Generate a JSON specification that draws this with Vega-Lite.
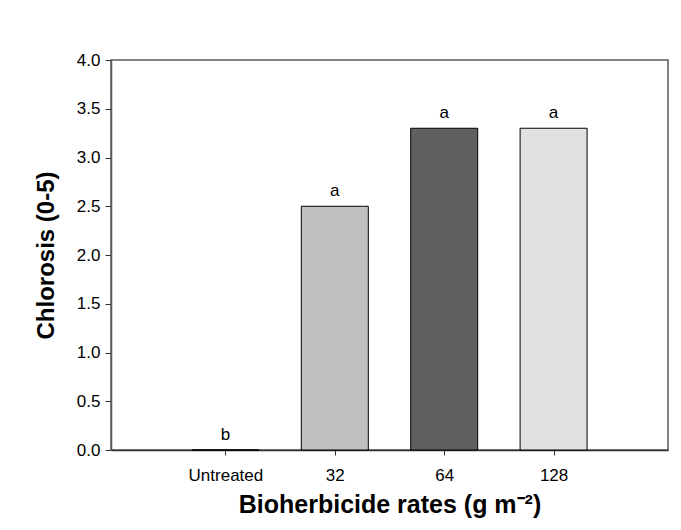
{
  "$schema": "https://vega.github.io/schema/vega-lite/v6.json",
  "width": 557,
  "height": 390,
  "autosize": {"type": "none"},
  "padding": {"left": 111, "top": 60, "right": 13, "bottom": 80},
  "background": "white",
  "config": {
    "font": "Liberation Sans",
    "view": {"stroke": "#5a5a5a", "strokeWidth": 1.5},
    "axis": {"grid": false, "labelFont": "Liberation Sans", "titleFont": "Liberation Sans", "labelColor": "black", "titleColor": "black", "tickColor": "#333333", "domainColor": "#333333"}
  },
  "data": {
    "values": [
      {"rate": "Untreated", "pos": 1, "chlorosis": 0.0, "letter": "b"},
      {"rate": "32", "pos": 2, "chlorosis": 2.5, "letter": "a"},
      {"rate": "64", "pos": 3, "chlorosis": 3.3, "letter": "a"},
      {"rate": "128", "pos": 4, "chlorosis": 3.3, "letter": "a"}
    ]
  },
  "encoding": {
    "x": {
      "field": "pos", "type": "quantitative",
      "scale": {"domain": [0, 5], "nice": false, "zero": false},
      "axis": {
        "values": [1, 2, 3, 4],
        "labelExpr": "datum.value == 1 ? 'Untreated' : datum.value == 2 ? '32' : datum.value == 3 ? '64' : '128'",
        "title": "Bioherbicide rates (g m⁻²)",
        "titleFontSize": 25, "titleFontWeight": "bold", "titlePadding": 9,
        "labelFontSize": 17, "labelPadding": 12, "tickSize": 5, "domainWidth": 1.5
      }
    },
    "y": {
      "field": "chlorosis", "type": "quantitative",
      "scale": {"domain": [0, 4], "nice": false},
      "axis": {
        "values": [0, 0.5, 1, 1.5, 2, 2.5, 3, 3.5, 4],
        "format": ".1f",
        "title": "Chlorosis (0-5)",
        "titleFontSize": 24, "titleFontWeight": "bold", "titlePadding": 18,
        "labelFontSize": 17, "labelPadding": 5, "tickSize": 6,
        "domainColor": "#5a5a5a", "domainWidth": 1.5
      }
    }
  },
  "layer": [
    {
      "mark": {"type": "bar", "width": 67, "stroke": "black", "strokeWidth": 1},
      "encoding": {
        "color": {
          "field": "rate", "type": "nominal",
          "scale": {"domain": ["Untreated", "32", "64", "128"], "range": ["#ffffff", "#c0c0c0", "#606060", "#e0e0e0"]},
          "legend": null
        }
      }
    },
    {
      "mark": {"type": "text", "baseline": "alphabetic", "dy": -10, "fontSize": 17, "color": "black", "font": "Liberation Sans"},
      "encoding": {"text": {"field": "letter"}}
    }
  ]
}
